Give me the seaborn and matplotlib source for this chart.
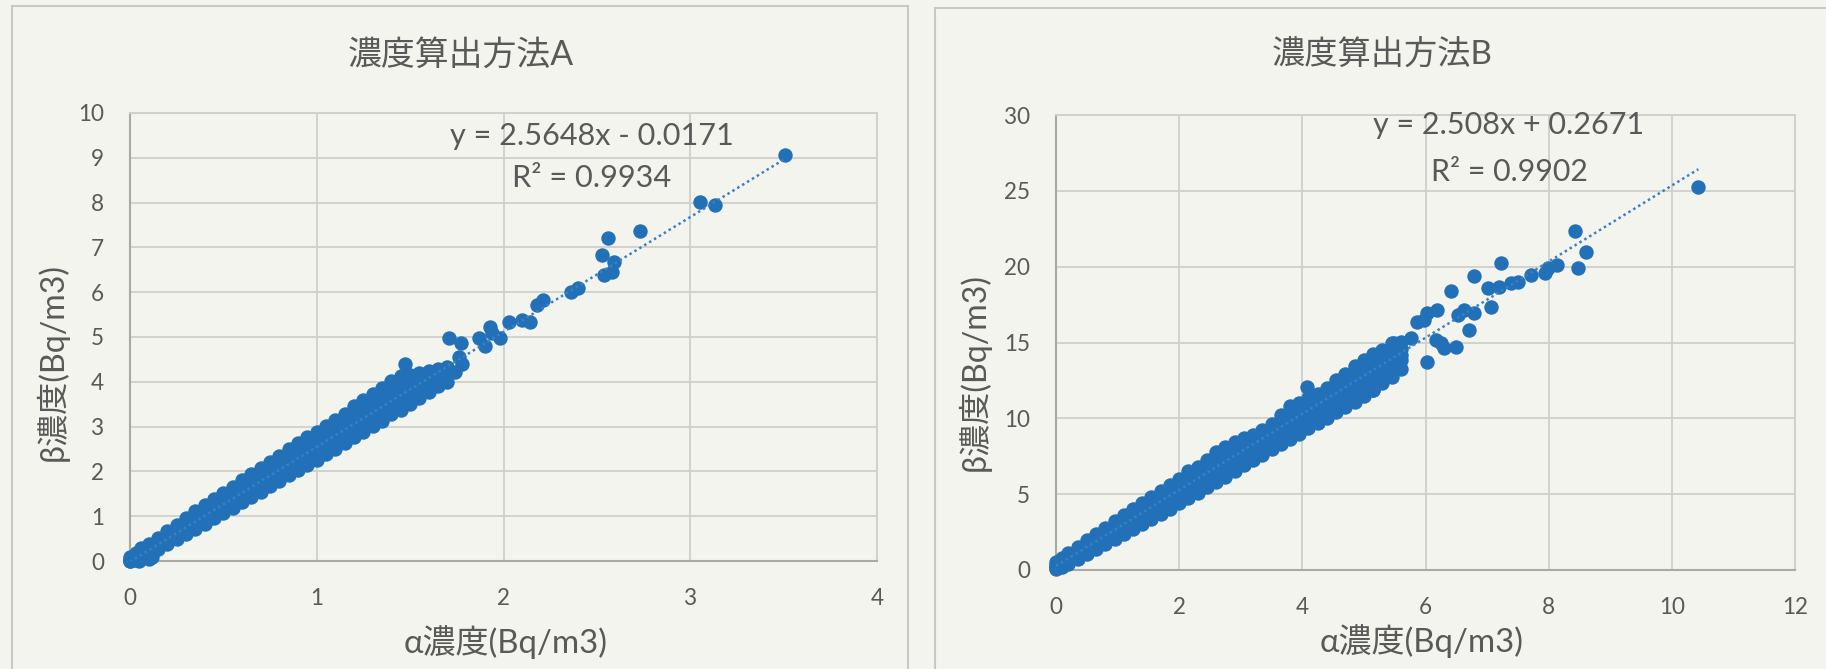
import matplotlib
matplotlib.use("Agg")
import matplotlib.pyplot as plt
from matplotlib.patches import Rectangle
import seaborn as sns

# ---------------- data ----------------
# Method A: dense band (alpha value with five beta values across the band)
band_a_alpha = [0.00, 0.03, 0.06, 0.10, 0.15, 0.20, 0.25, 0.30, 0.35, 0.40, 0.45, 0.50,
                0.55, 0.60, 0.65, 0.70, 0.75, 0.80, 0.85, 0.90, 0.95, 1.00, 1.05, 1.10,
                1.15, 1.20, 1.25, 1.30, 1.35, 1.40, 1.45, 1.50, 1.55, 1.60, 1.65, 1.70]
band_a_lo = [0.00, 0.02, 0.06, 0.15, 0.26, 0.38, 0.49, 0.60, 0.72, 0.83, 0.95, 1.07,
             1.19, 1.31, 1.43, 1.55, 1.67, 1.79, 1.91, 2.03, 2.15, 2.26, 2.38, 2.50,
             2.63, 2.76, 2.88, 3.01, 3.13, 3.28, 3.38, 3.50, 3.64, 3.78, 3.90, 4.00]
band_a_lo2 = [0.01, 0.05, 0.11, 0.21, 0.34, 0.46, 0.59, 0.71, 0.84, 0.96, 1.08, 1.21,
              1.33, 1.46, 1.58, 1.71, 1.83, 1.96, 2.08, 2.21, 2.33, 2.45, 2.57, 2.70,
              2.83, 2.95, 3.07, 3.21, 3.33, 3.47, 3.58, 3.71, 3.83, 3.95, 4.03, 4.12]
band_a_mid = [0.02, 0.08, 0.15, 0.25, 0.38, 0.51, 0.64, 0.77, 0.90, 1.02, 1.15, 1.28,
              1.41, 1.54, 1.67, 1.80, 1.93, 2.06, 2.19, 2.32, 2.45, 2.57, 2.70, 2.83,
              2.96, 3.08, 3.20, 3.34, 3.47, 3.60, 3.72, 3.85, 3.95, 4.05, 4.12, 4.20]
band_a_hi2 = [0.04, 0.11, 0.19, 0.29, 0.43, 0.56, 0.70, 0.83, 0.97, 1.10, 1.23, 1.36,
              1.50, 1.63, 1.77, 1.90, 2.03, 2.17, 2.30, 2.44, 2.57, 2.70, 2.82, 2.95,
              3.09, 3.23, 3.36, 3.50, 3.63, 3.77, 3.88, 3.97, 4.05, 4.12, 4.18, 4.25]
band_a_hi = [0.08, 0.17, 0.28, 0.38, 0.52, 0.67, 0.81, 0.96, 1.11, 1.25, 1.39, 1.52,
             1.66, 1.80, 1.94, 2.07, 2.21, 2.35, 2.49, 2.63, 2.77, 2.89, 3.02, 3.15,
             3.29, 3.45, 3.59, 3.72, 3.87, 4.02, 4.12, 4.16, 4.20, 4.24, 4.28, 4.32]
# Method A: scattered points outside the band
extra_a_alpha = [0.05, 0.10, 0.12, 1.47, 1.71, 1.77, 1.76, 1.78, 1.74, 1.87, 1.93, 1.94,
                 1.98, 1.90, 2.03, 2.10, 2.14, 2.18, 2.21, 2.36, 2.40, 2.53, 2.54, 2.58,
                 2.59, 2.56, 2.73, 3.05, 3.13, 3.51]
extra_a_beta = [0.00, 0.04, 0.10, 4.39, 4.98, 4.87, 4.55, 4.40, 4.22, 4.98, 5.22, 5.09,
                4.98, 4.80, 5.33, 5.38, 5.33, 5.71, 5.83, 6.00, 6.09, 6.83, 6.38, 6.45,
                6.67, 7.21, 7.37, 8.01, 7.95, 9.06]

# Method B: dense band
band_b_alpha = [0.00, 0.10, 0.20, 0.35, 0.50, 0.65, 0.80, 0.95, 1.10, 1.25, 1.40, 1.55,
                1.70, 1.85, 2.00, 2.15, 2.30, 2.45, 2.60, 2.75, 2.90, 3.05, 3.20, 3.35,
                3.50, 3.65, 3.80, 3.95, 4.10, 4.25, 4.40, 4.55, 4.70, 4.85, 5.00, 5.15,
                5.30, 5.45, 5.60]
band_b_lo = [0.05, 0.18, 0.40, 0.72, 1.05, 1.38, 1.72, 2.05, 2.38, 2.72, 3.05, 3.38,
             3.72, 4.05, 4.40, 4.75, 5.10, 5.45, 5.80, 6.15, 6.55, 6.90, 7.25, 7.60,
             7.95, 8.30, 8.65, 9.00, 9.35, 9.70, 10.05, 10.40, 10.75, 11.05, 11.45, 11.85,
             12.35, 12.75, 13.25]
band_b_lo2 = [0.15, 0.35, 0.60, 0.95, 1.32, 1.68, 2.05, 2.40, 2.78, 3.12, 3.50, 3.85,
              4.22, 4.58, 4.92, 5.30, 5.65, 6.00, 6.38, 6.72, 7.12, 7.48, 7.85, 8.20,
              8.55, 8.92, 9.28, 9.62, 10.00, 10.35, 10.70, 11.08, 11.42, 11.75, 12.15, 12.55,
              13.00, 13.40, 13.85]
band_b_mid = [0.25, 0.50, 0.75, 1.10, 1.50, 1.85, 2.25, 2.60, 3.00, 3.35, 3.75, 4.10,
              4.50, 4.85, 5.20, 5.60, 5.95, 6.30, 6.70, 7.05, 7.45, 7.80, 8.20, 8.55,
              8.90, 9.30, 9.65, 10.00, 10.40, 10.75, 11.10, 11.50, 11.85, 12.20, 12.60, 13.00,
              13.40, 13.80, 14.20]
band_b_hi2 = [0.35, 0.62, 0.88, 1.25, 1.65, 2.02, 2.42, 2.80, 3.20, 3.58, 3.98, 4.35,
              4.75, 5.12, 5.50, 5.95, 6.28, 6.65, 7.15, 7.48, 7.82, 8.12, 8.45, 8.78,
              9.15, 9.65, 10.12, 10.40, 10.75, 11.08, 11.45, 11.90, 12.28, 12.70, 13.10, 13.50,
              13.85, 14.30, 14.55]
band_b_hi = [0.50, 0.82, 1.10, 1.52, 1.95, 2.38, 2.80, 3.22, 3.62, 4.02, 4.42, 4.82,
             5.22, 5.62, 6.02, 6.50, 6.82, 7.22, 7.80, 8.12, 8.42, 8.68, 8.92, 9.22,
             9.62, 10.20, 10.80, 11.02, 11.32, 11.62, 12.02, 12.50, 12.92, 13.42, 13.82, 14.22,
             14.50, 14.95, 15.05]
# Method B: scattered points outside the band
extra_b_alpha = [4.07, 5.05, 5.15, 5.27, 5.49, 5.76, 5.87, 5.98, 6.03, 6.19, 6.03, 6.17,
                 6.25, 6.30, 6.49, 6.52, 6.63, 6.79, 6.71, 6.42, 6.79, 7.06, 7.01, 7.20,
                 7.22, 7.39, 7.50, 7.72, 7.94, 7.99, 8.13, 8.47, 8.61, 8.42, 10.43]
extra_b_beta = [12.08, 13.40, 11.90, 13.84, 14.95, 15.27, 16.37, 16.48, 16.92, 17.14, 13.73, 15.16,
                14.94, 14.61, 14.72, 16.81, 17.14, 16.92, 15.82, 18.41, 19.38, 17.32, 18.57, 18.68,
                20.26, 18.90, 19.00, 19.45, 19.56, 19.89, 20.10, 19.89, 20.94, 22.35, 25.27]

# Linear trend lines (slope, intercept, R^2)
fit_a = (2.5648, -0.0171, 0.9934)
fit_b = (2.508, 0.2671, 0.9902)

titles = ["濃度算出方法A", "濃度算出方法B"]
x_label = "α濃度(Bq/m3)"
y_label = "β濃度(Bq/m3)"

# ---------------- style ----------------
sns.set_style("white")
plt.rcParams["font.family"] = ["Lato", "Noto Sans CJK JP", "DejaVu Sans"]

W, H = 1826, 669
BG = "#F4F4EE"
BLUE = "#2271B8"
TEXT = "#595959"
GRID = "#CFCFCB"
AXIS = "#A9A9A6"

fig = plt.figure(figsize=(W / 100, H / 100), dpi=100, facecolor=BG)
renderer = fig.canvas.get_renderer()


def fit_size(text, target, along="width"):
    """Scale a text's font size so its extent equals target pixels."""
    for _ in range(2):
        bb = text.get_window_extent(renderer)
        cur = bb.width if along == "width" else bb.height
        text.set_fontsize(text.get_fontsize() * target / cur)


# tick label size from the width of a two-digit label
probe = fig.text(0, 0, "10", fontsize=16)
fit_size(probe, 26)
tick_size = probe.get_fontsize()
probe.remove()

# chart-area frames
fig.add_artist(Rectangle((12 / W, -0.05), (908 - 12) / W, 1.05 - 6 / H,
                         transform=fig.transFigure, fill=False, ec="#C8C8C4", lw=1.5))
fig.add_artist(Rectangle((935 / W, -0.05), 0.6, 1.05 - 8 / H,
                         transform=fig.transFigure, fill=False, ec="#C8C8C4", lw=1.5))

# plot-area boxes in pixels: left, top, right, bottom
boxes = [(130, 113, 877, 561), (1056, 115, 1795, 570)]

panels = [
    dict(rows=(band_a_alpha, [band_a_lo, band_a_lo2, band_a_mid, band_a_hi2, band_a_hi]),
         extra=(extra_a_alpha, extra_a_beta), fit=fit_a,
         xlim=(0, 4), ylim=(0, 10), xstep=1, ystep=1,
         title=(461, 55, 226), xlab=(506, 642, 204), ylab=(52, 362, 198),
         eq=(592, 145, 283), r2=(592, 187, 159)),
    dict(rows=(band_b_alpha, [band_b_lo, band_b_lo2, band_b_mid, band_b_hi2, band_b_hi]),
         extra=(extra_b_alpha, extra_b_beta), fit=fit_b,
         xlim=(0, 12), ylim=(0, 30), xstep=2, ystep=5,
         title=(1382, 55, 221), xlab=(1422, 641, 204), ylab=(974, 372, 198),
         eq=(1509, 134, 270), r2=(1509, 181, 157)),
]

for box, p, title in zip(boxes, panels, titles):
    l, t, r, b_ = box
    ax = fig.add_axes([l / W, 1 - b_ / H, (r - l) / W, (b_ - t) / H])
    ax.set_facecolor(BG)

    alpha, rows = p["rows"]
    xs, ys = [], []
    for row in rows:
        xs += alpha
        ys += row
    xs += p["extra"][0]
    ys += p["extra"][1]
    sns.scatterplot(x=xs, y=ys, ax=ax, s=108, color=BLUE, linewidth=0,
                    clip_on=False, zorder=3)

    m, c, r2 = p["fit"]
    x_end = max(xs)
    sns.lineplot(x=[0, x_end], y=[c, m * x_end + c], ax=ax, color="#3A80C2",
                 linewidth=1.8, linestyle=(0, (1, 1.3)), zorder=4)

    ax.set_xlim(*p["xlim"])
    ax.set_ylim(*p["ylim"])
    ax.set_xticks(range(p["xlim"][0], p["xlim"][1] + 1, p["xstep"]))
    ax.set_yticks(range(p["ylim"][0], p["ylim"][1] + 1, p["ystep"]))
    ax.grid(True, color=GRID, linewidth=1.3)
    ax.set_axisbelow(True)
    ax.tick_params(length=0, labelsize=tick_size, labelcolor=TEXT)
    ax.tick_params(axis="x", pad=19.4)
    ax.tick_params(axis="y", pad=18.5)
    for side in ("top", "right"):
        ax.spines[side].set_color(GRID)
        ax.spines[side].set_linewidth(1.3)
    for side in ("left", "bottom"):
        ax.spines[side].set_color(AXIS)
        ax.spines[side].set_linewidth(1.5)

    # axis titles, placed by pixel centre
    xl = ax.set_xlabel(x_label, fontsize=20, color=TEXT, va="center")
    px, py, wx = p["xlab"]
    ax.xaxis.set_label_coords((px - l) / (r - l), (b_ - py) / (b_ - t))
    fit_size(xl, wx)
    yl = ax.set_ylabel(y_label, fontsize=20, color=TEXT, va="center")
    px, py, hy = p["ylab"]
    ax.yaxis.set_label_coords((px - l) / (r - l), (b_ - py) / (b_ - t))
    fit_size(yl, hy, along="height")

    # trend-line equation and R^2
    sign = "-" if c < 0 else "+"
    ex, ey, ew = p["eq"]
    eq = ax.annotate(f"y = {m:g}x {sign} {abs(c):g}", xy=(ex, H - ey),
                     xycoords="figure pixels", ha="center", va="baseline",
                     fontsize=20, color=TEXT)
    fit_size(eq, ew)
    rx, ry, rw = p["r2"]
    rt = ax.annotate(f"R² = {r2:g}", xy=(rx, H - ry), xycoords="figure pixels",
                     ha="center", va="baseline", fontsize=20, color=TEXT)
    fit_size(rt, rw)

    # chart title
    tx, ty, tw = p["title"]
    tt = ax.annotate(title, xy=(tx, H - ty), xycoords="figure pixels",
                     ha="center", va="center", fontsize=22, color=TEXT,
                     annotation_clip=False)
    fit_size(tt, tw)

fig.savefig("out.png", dpi=100, facecolor=BG)
